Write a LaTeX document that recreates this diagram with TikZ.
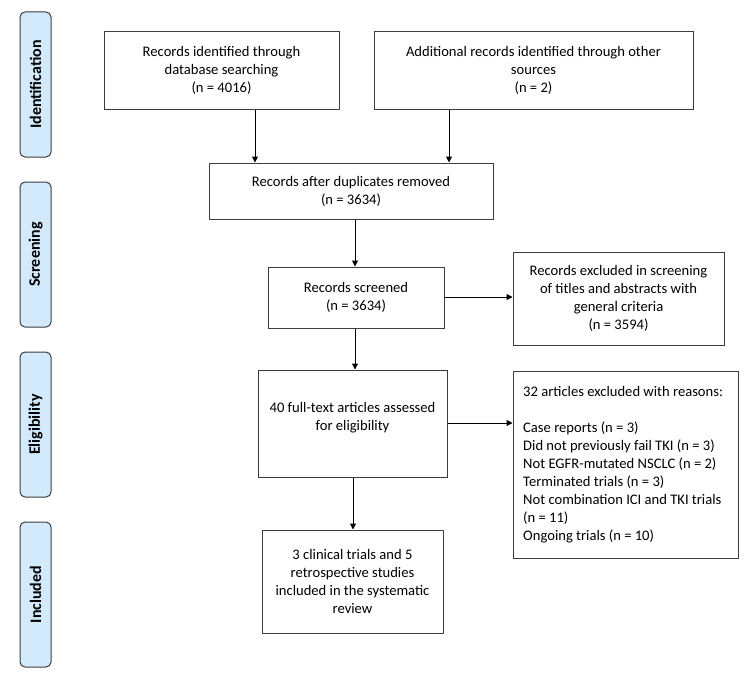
\documentclass[tikz,border=0pt]{standalone}
\usepackage{fontspec}
\setmainfont{Carlito}
\usetikzlibrary{arrows.meta}
\definecolor{phase}{RGB}{210,234,252}
\definecolor{edge}{RGB}{60,60,60}
\tikzset{
  box/.style={draw=edge, line width=1pt, rectangle, align=center, inner sep=2pt,
    font=\fontsize{14.6}{18}\selectfont},
  phasebox/.style={draw=edge, line width=1pt, fill=phase, rounded corners=5pt,
    minimum width=31pt, minimum height=145pt, inner sep=0pt},
  phaselabel/.style={rotate=90, font=\fontsize{16}{19}\selectfont\bfseries},
  arr/.style={-{Triangle[length=6pt,width=6pt]}, line width=1pt, black},
}
\begin{document}
\begin{tikzpicture}[x=1pt,y=-1pt]
\useasboundingbox (0,0) rectangle (752,677);
% phase labels
\node[phasebox] (pid) at (35.5,84.5) {};
\node[phaselabel] at (pid.center) {Identification};
\node[phasebox] (psc) at (35.5,254.5) {};
\node[phaselabel] at (psc.center) {Screening};
\node[phasebox] (pel) at (35.5,424.5) {};
\node[phaselabel] at (pel.center) {Eligibility};
\node[phasebox] (pin) at (35.5,594.5) {};
\node[phaselabel] at (pin.center) {Included};
% boxes
\node[box, minimum width=235pt, minimum height=77pt] (b1) at (221.5,70.5)
  {Records identified through\\database searching\\(n = 4016)};
\node[box, minimum width=319pt, minimum height=77pt] (b2) at (533.5,70.5)
  {Additional records identified through other\\sources\\(n = 2)};
\node[box, minimum width=284pt, minimum height=56pt] (b3) at (351,191)
  {Records after duplicates removed\\(n = 3634)};
\node[box, minimum width=176pt, minimum height=61pt] (b4) at (356,297.5)
  {Records screened\\(n = 3634)};
\node[box, minimum width=211pt, minimum height=93pt] (b5) at (618.5,298.5)
  {Records excluded in screening\\of titles and abstracts with\\general criteria\\(n = 3594)};
\node[box, minimum width=189pt, minimum height=107pt] (b6) at (352.5,423.5) {};
\node[font=\fontsize{14.6}{18}\selectfont, align=center] (t6) at (352.5,418)
  {40 full-text articles assessed\\for eligibility};
\node[box, minimum width=225pt, minimum height=187pt] (b7) at (625.5,464.5) {};
\node[font=\fontsize{14.6}{18}\selectfont, align=left, anchor=north west, inner sep=0pt] (t7) at (523,386)
  {32 articles excluded with reasons:\\[18pt]Case reports (n = 3)\\Did not previously fail TKI (n = 3)\\Not EGFR-mutated NSCLC (n = 2)\\Terminated trials (n = 3)\\Not combination ICI and TKI trials\\(n = 11)\\Ongoing trials (n = 10)};
\node[box, minimum width=181pt, minimum height=103pt] (b8) at (352.5,581.5)
  {3 clinical trials and 5\\retrospective studies\\included in the systematic\\review};
% arrows
\draw[arr] (b1.south -| 255,0) -- (b3.north -| 255,0);
\draw[arr] (b2.south -| 449,0) -- (b3.north -| 449,0);
\draw[arr] (b3.south -| 355,0) -- (b4.north -| 355,0);
\draw[arr] (b4.east |- 0,297) -- (b5.west |- 0,297);
\draw[arr] (b4.south -| 355,0) -- (b6.north -| 355,0);
\draw[arr] (b6.east |- 0,423) -- (b7.west |- 0,423);
\draw[arr] (b6.south -| 353,0) -- (b8.north -| 353,0);
\end{tikzpicture}
\end{document}
